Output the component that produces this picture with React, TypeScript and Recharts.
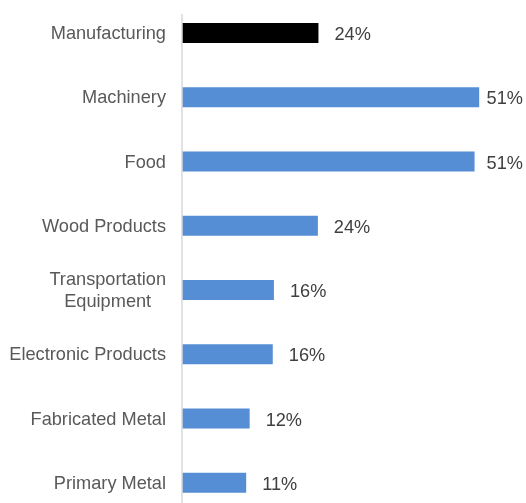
import React from 'react';
import { BarChart, Bar, XAxis, YAxis, Cell, LabelList } from 'recharts';

const categories = [
  'Manufacturing',
  'Machinery',
  'Food',
  'Wood Products',
  'Transportation\nEquipment',
  'Electronic Products',
  'Fabricated Metal',
  'Primary Metal',
];
const shares = [23.6, 51.4, 50.6, 23.5, 15.9, 15.7, 11.7, 11.1];
const barColors = ['#000000', '#558ED5', '#558ED5', '#558ED5', '#558ED5', '#558ED5', '#558ED5', '#558ED5'];

const FONT = '"Liberation Sans", Arial, sans-serif';
const FS = 18.2;

const data = categories.map((name, i) => ({ name, share: shares[i] }));

let ctx: CanvasRenderingContext2D | null = null;
function textWidth(s: string, size = FS) {
  if (!ctx) ctx = document.createElement('canvas').getContext('2d');
  if (!ctx) return s.length * size * 0.55;
  ctx.font = `${size}px ${FONT}`;
  return ctx.measureText(s).width;
}

function CategoryTick(props: any) {
  const { x, y, payload } = props;
  const lines = String(payload.value).split('\n');
  if (lines.length === 1) {
    return (
      <text x={x} y={y} textAnchor="end" dominantBaseline="central" fill="#595959" fontSize={FS} fontFamily={FONT}>
        {lines[0]}
      </text>
    );
  }
  const maxW = Math.max(...lines.map((l) => textWidth(l)));
  const cx = x - maxW / 2;
  const lineH = 22;
  const start = y - ((lines.length - 1) * lineH) / 2;
  return (
    <text textAnchor="middle" dominantBaseline="central" fill="#595959" fontSize={FS} fontFamily={FONT}>
      {lines.map((l, i) => (
        <tspan key={i} x={cx} y={start + i * lineH}>
          {l}
        </tspan>
      ))}
    </text>
  );
}

function ValueLabel(props: any) {
  const { x, y, width, height, value } = props;
  const label = `${Math.round(value)}%`;
  const w = textWidth(label);
  let tx = x + width + 16;
  if (tx + w > 523) tx = 523 - w;
  return (
    <text x={tx} y={y + height / 2 + 1} dominantBaseline="central" fill="#404040" fontSize={FS} fontFamily={FONT}>
      {label}
    </text>
  );
}

export default function App() {
  return (
    <div style={{ position: 'fixed', left: 0, top: 0, width: 526, height: 503, overflow: 'hidden' }}>
      <BarChart
        width={526}
        height={515}
        data={data}
        layout="vertical"
        margin={{ top: 14, right: 26, bottom: 0, left: 0 }}
      >
        <XAxis type="number" domain={[0, 55]} hide />
        <YAxis
          type="category"
          dataKey="name"
          width={182}
          padding={{ top: -13, bottom: 0 }}
          axisLine={{ stroke: '#D9D9D9', strokeWidth: 1.5 }}
          tickLine={false}
          tickSize={0}
          tickMargin={16}
          tick={<CategoryTick />}
          interval={0}
        />
        <Bar dataKey="share" barSize={20} isAnimationActive={false}>
          {data.map((d, i) => (
            <Cell key={d.name} fill={barColors[i]} />
          ))}
          <LabelList dataKey="share" content={<ValueLabel />} />
        </Bar>
      </BarChart>
    </div>
  );
}
